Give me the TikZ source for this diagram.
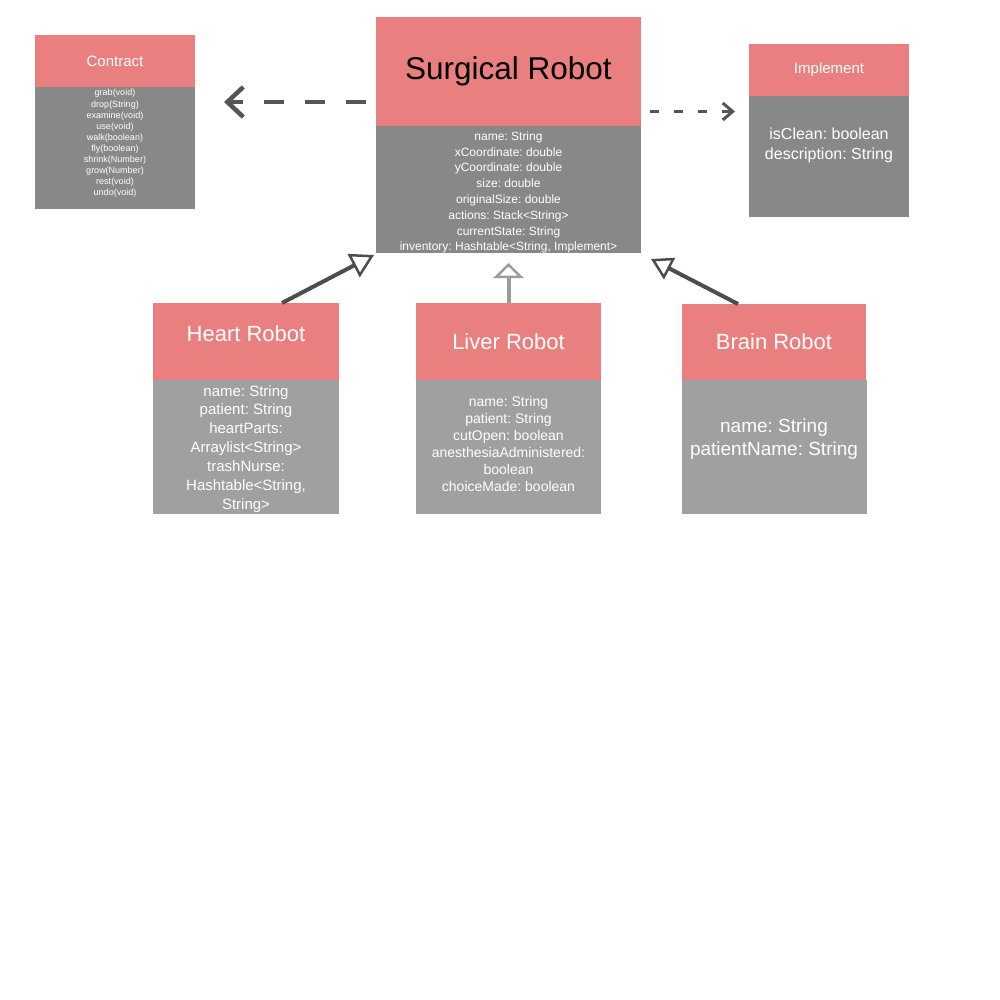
\documentclass[tikz,border=0pt]{standalone}
\usepackage{fontspec}
\setmainfont{Liberation Sans}
\usetikzlibrary{arrows.meta}
\definecolor{hdr}{HTML}{E97F7E}
\definecolor{bodyA}{HTML}{888888}
\definecolor{bodyB}{HTML}{A0A0A0}
\definecolor{arrD}{HTML}{4D4D4D}
\definecolor{arrM}{HTML}{555555}
\definecolor{arrL}{HTML}{9C9C9C}
\frenchspacing
\begin{document}
\begin{tikzpicture}[x=1pt,y=-1pt,
  box/.style={anchor=north west, inner sep=0pt, outer sep=0pt, draw=none},
  hbox/.style={box, fill=hdr, text=white},
  dbox/.style={box, fill=bodyA},
  lbox/.style={box, fill=bodyB},
  txt/.style={text=white, align=center, inner sep=0pt},
  dashL/.style={draw=arrM, line width=4.5pt, dash pattern=on 20pt off 21pt,
    -{Straight Barb[length=16pt,width=30pt]}},
  dashR/.style={draw=arrM, line width=3pt, dash pattern=on 9pt off 15pt,
    -{Straight Barb[length=10pt,width=17pt]}},
  inh/.style={draw=arrD, line width=4pt},
  inhL/.style={draw=arrL, line width=4pt,
    -{Triangle[open, length=15pt, width=30pt, line width=2.5pt]}}
]
\path[use as bounding box, fill=white] (0,0) rectangle (1000,1000);

% Contract
\node[hbox, minimum width=160pt, minimum height=52pt, font=\fontsize{15}{18}\selectfont] (contH) at (35,35) {Contract};
\node[dbox, minimum width=160pt, minimum height=122pt] (contB) at (35,87) {};
\node[txt, font=\fontsize{9}{11.1}\selectfont] (contT) at (115,143.6)
  {grab(void)\\drop(String)\\examine(void)\\use(void)\\walk(boolean)\\fly(boolean)\\shrink(Number)\\grow(Number)\\rest(void)\\undo(void)};

% Surgical Robot
\node[hbox, text=black, minimum width=265pt, minimum height=109pt, font=\fontsize{31.5}{36}\selectfont] (surgH) at (376,17) {Surgical Robot};
\node[dbox, minimum width=265pt, minimum height=127pt] (surgB) at (376,126) {};
\node[txt, font=\fontsize{12}{15.8}\selectfont] (surgT) at (508.5,192.4)
  {name: String\\xCoordinate: double\\yCoordinate: double\\size: double\\originalSize: double\\actions: Stack<String>\\currentState: String\\inventory: Hashtable<String, Implement>};

% Implement
\node[hbox, minimum width=160pt, minimum height=52pt, font=\fontsize{15}{18}\selectfont] (implH) at (749,44) {Implement};
\node[dbox, minimum width=160pt, minimum height=121pt] (implB) at (749,96) {};
\node[txt, font=\fontsize{16}{20}\selectfont] (implT) at (829,145.3)
  {isClean: boolean\\description: String};

% Heart Robot
\node[hbox, minimum width=186pt, minimum height=77pt, text depth=15pt, font=\fontsize{22}{26}\selectfont] (heartH) at (153,303) {Heart Robot};
\node[lbox, minimum width=186pt, minimum height=134pt] (heartB) at (153,380) {};
\node[txt, font=\fontsize{15}{18.9}\selectfont] (heartT) at (246,448.9)
  {name: String\\patient: String\\heartParts:\\Arraylist<String>\\trashNurse:\\Hashtable<String,\\String>};

% Liver Robot
\node[hbox, minimum width=185pt, minimum height=77pt, font=\fontsize{22}{26}\selectfont] (liverH) at (416,303) {Liver Robot};
\node[lbox, minimum width=185pt, minimum height=134pt] (liverB) at (416,380) {};
\node[txt, font=\fontsize{14}{17}\selectfont] (liverT) at (508.5,443.8)
  {name: String\\patient: String\\cutOpen: boolean\\anesthesiaAdministered:\\boolean\\choiceMade: boolean};

% Brain Robot
\node[hbox, minimum width=184pt, minimum height=76pt, font=\fontsize{22}{26}\selectfont] (brainH) at (682,304) {Brain Robot};
\node[lbox, minimum width=185pt, minimum height=134pt] (brainB) at (682,380) {};
\node[txt, font=\fontsize{19}{23}\selectfont] (brainT) at (774,439.3)
  {name: String\\patientName: String};

% connectors
\coordinate (contTip) at (224,102);
\coordinate (implTip) at (735,111.5);
\draw[dashL] ([shift={(-10,30.5)}]surgH.west) -- (contTip);
\draw[dashR] ([shift={(9,40)}]surgH.east) -- (implTip);
\draw[inh, -{Triangle[open, length=23pt, width=26pt, line width=2.5pt]}]
  ([xshift=36pt]heartH.north) -- ([shift={(-2,2)}]surgB.south west);
\draw[inhL] (liverH.north) -- ([shift={(0,10)}]surgB.south);
\draw[inh, -{Triangle[open, length=21pt, width=24pt, line width=2.5pt]}]
  ([xshift=-36pt]brainH.north) -- ([shift={(10,6)}]surgB.south east);
\end{tikzpicture}
\end{document}
